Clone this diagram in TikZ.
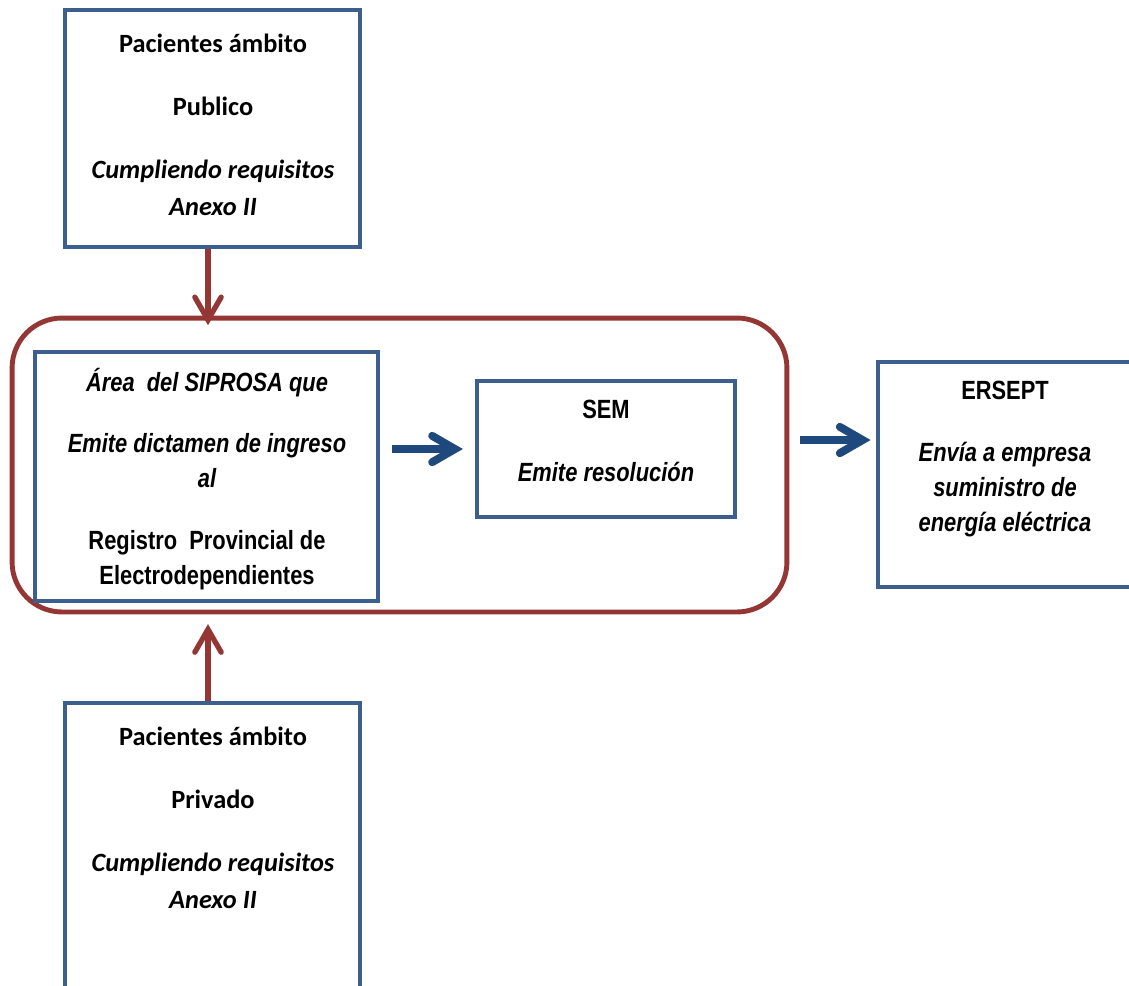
\documentclass[tikz,border=0pt]{standalone}
\usepackage{fontspec}
\usepackage{tikz}
\usetikzlibrary{positioning,arrows.meta}
\newfontfamily\calfont{Carlito}
\newfontfamily\narrowfont[FakeStretch=0.83]{Liberation Sans}
\definecolor{boxblue}{RGB}{60,95,142}
\definecolor{arrowblue}{RGB}{31,73,125}
\definecolor{boxred}{RGB}{148,54,52}

\begin{document}
\begin{tikzpicture}[x=0.02cm,y=-0.02cm,
        frame/.style = {draw=boxblue, line width=2.5pt, rectangle, inner sep=0pt},
]
\tikzstyle{caltxt}=[align=center, inner sep=0pt, font=\calfont\bfseries\fontsize{15}{21}\selectfont]
\tikzstyle{narrowtxt}=[align=center, inner sep=0pt, font=\narrowfont\bfseries\fontsize{15}{20}\selectfont]
\tikzstyle{redarrow}=[draw=boxred, line width=3pt, -{Straight Barb[length=13pt,width=15pt,line cap=round,line join=miter]}]
\tikzstyle{bluearrow}=[draw=arrowblue, line width=4.5pt, -{Straight Barb[length=13pt,width=15pt,line cap=round,line join=miter]}]

	\useasboundingbox (0,0) rectangle (1129,985);
	\clip (0,0) rectangle (1129,985);

	% pacientes
	\node[frame, minimum width=5.9cm, minimum height=4.74cm] (publico) at (212.5,128.5) {};
	\node[caltxt] (publicotxt) at (213,125) {Pacientes ámbito\\[15pt] Publico\\[15pt] {\itshape Cumpliendo requisitos}\\ {\itshape Anexo II}};

	\node[frame, minimum width=5.9cm, minimum height=6cm] (privado) at (212.5,853) {};
	\node[caltxt] (privadotxt) at (213,818) {Pacientes ámbito\\[15pt] Privado\\[15pt] {\itshape Cumpliendo requisitos}\\ {\itshape Anexo II}};

	% SIPROSA + SEM
	\node[draw=boxred, line width=2.8pt, rounded corners=1cm, minimum width=15.5cm, minimum height=5.88cm] (group) at (399.5,465) {};

	\node[frame, minimum width=6.86cm, minimum height=4.98cm] (area) at (206.5,476.5) {};
	\node[narrowtxt] (areatxt) at (207,479) {{\itshape Área\ \ del SIPROSA que}\\[15pt] {\itshape Emite dictamen de ingreso}\\ {\itshape al}\\[15pt] Registro\ \ Provincial de\\ Electrodependientes};

	\node[frame, minimum width=5.16cm, minimum height=2.72cm] (sem) at (606,449) {};
	\node[narrowtxt] (semtxt) at (606,441) {SEM\\[16pt] {\itshape Emite resolución}};

	% ERSEPT
	\node[frame, minimum width=5.08cm, minimum height=4.5cm] (ersept) at (1005,474.5) {};
	\node[narrowtxt] (ersepttxt) at (1005,459) {ERSEPT\\[15pt] {\itshape Envía a empresa}\\ {\itshape suministro de}\\ {\itshape energía eléctrica}};

	\draw[redarrow, shorten >=-5.5pt] ([xshift=-0.09cm]publico.south) -- ([xshift=-0.09cm]publico.south |- group.north);
	\draw[redarrow, shorten >=5.5pt] ([xshift=-0.09cm]privado.north) -- ([xshift=-0.09cm]privado.north |- group.south);
	\draw[bluearrow, shorten <=6.8pt, shorten >=6.8pt] (area.east |- sem.west) -- (sem.west);
	\draw[bluearrow, shorten <=6.3pt, shorten >=3pt] ([yshift=0.5cm]group.east) -- ([yshift=0.5cm]group.east -| ersept.west);

\end{tikzpicture}
\end{document}
